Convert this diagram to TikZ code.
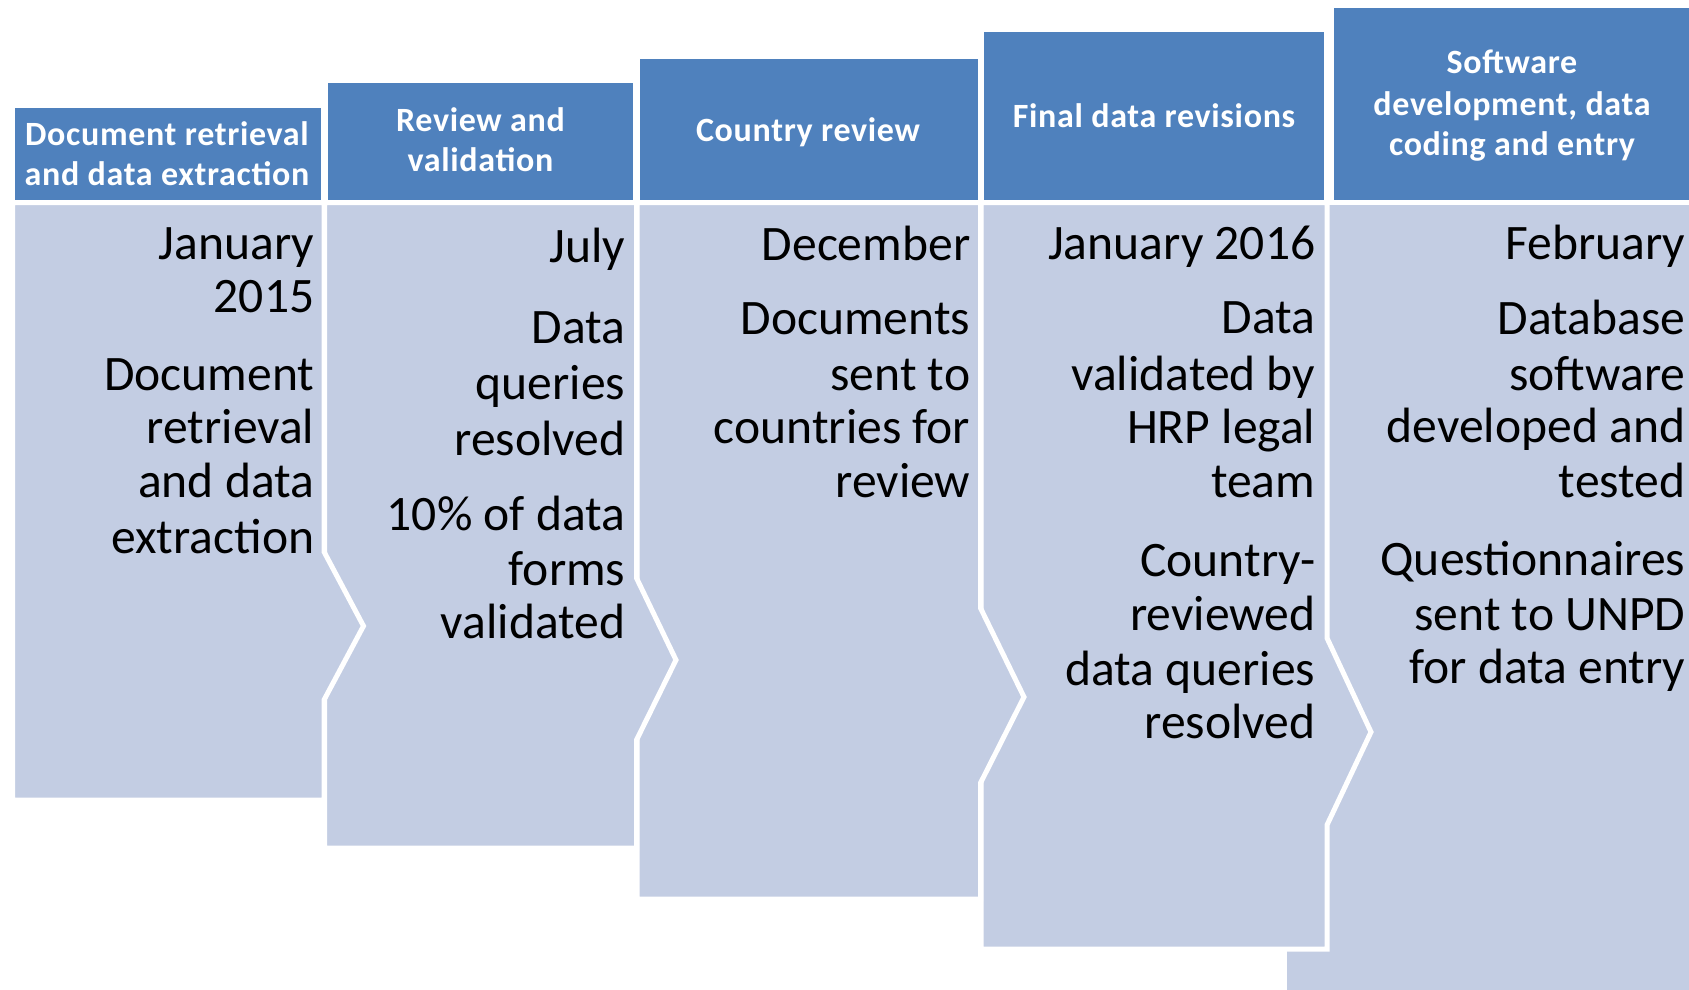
\documentclass[tikz,border=0pt]{standalone}
\usepackage{fontspec}
\newfontfamily\calib{Carlito}
\newfontfamily\calibsp[LetterSpace=2.0]{Carlito}
\newcommand\bodyfnt{\calib\fontsize{49.6}{54}\selectfont}
\newcommand\hdrfnt{\calibsp\bfseries\fontsize{34}{40}\selectfont}
\definecolor{hdrblue}{RGB}{79,129,189}
\definecolor{bodyblue}{RGB}{195,205,227}
\tikzset{
  bodyshape/.style={fill=bodyblue, draw=white, line width=5pt, line join=miter},
  hdrbox/.style={fill=hdrblue},
  bt/.style={font=\bodyfnt, text=black, inner sep=0pt, anchor=base east},
  ht/.style={font=\hdrfnt, text=white, inner sep=0pt, anchor=base},
}
\begin{document}
\begin{tikzpicture}[x=1pt,y=-1pt]
\useasboundingbox (0,0) rectangle (1689,990);
% bodies (back to front)
\path[bodyshape] (1284.5,202.5) -- (1700,202.5) -- (1700,1000) -- (1284.5,1000) -- cycle;
\path[bodyshape] (981,202.5) -- (1327,202.5) -- (1327,638) -- (1371,732) -- (1327,825) -- (1327,949) -- (981,949) -- cycle;
\path[bodyshape] (637,202.5) -- (980.5,202.5) -- (980.5,608) -- (1024,697) -- (980.5,783) -- (980.5,899) -- (637,899) -- cycle;
\path[bodyshape] (324.5,202.5) -- (636.5,202.5) -- (636.5,578) -- (676,660) -- (636.5,740) -- (636.5,848) -- (324.5,848) -- cycle;
\path[bodyshape] (12.5,202.5) -- (324,202.5) -- (324,551.7) -- (363.5,626) -- (324,700) -- (324,800) -- (12.5,800) -- cycle;
% headers
\fill[hdrbox] (15,107.7) rectangle (321,200.4);
\fill[hdrbox] (327.5,83) rectangle (633.4,200.4);
\fill[hdrbox] (639.8,59.2) rectangle (978,200.4);
\fill[hdrbox] (983.5,32.3) rectangle (1324,200.4);
\fill[hdrbox] (1333.5,8.3) rectangle (1700,200.4);
% header texts
\node[ht] (h1a) at (167,145) {Document retrieval};
\node[ht] (h1b) at (167,185) {and data extraction};
\node[ht] (h2a) at (480.5,131.7) {Review and};
\node[ht] (h2b) at (480.5,171.7) {validation};
\node[ht] (h3a) at (808,141) {Country review};
\node[ht] (h4a) at (1154,127) {Final data revisions};
\node[ht] (h5a) at (1512,74) {Software};
\node[ht] (h5b) at (1512,115) {development, data};
\node[ht] (h5c) at (1512,155) {coding and entry};
% column 1
\node[bt] (c1a) at (314.5,259.5) {January};
\node[bt] (c1b) at (314.5,312) {2015};
\node[bt] (c1c) at (314.5,390) {Document};
\node[bt] (c1d) at (314.5,443.5) {retrieval};
\node[bt] (c1e) at (314.5,497.5) {and data};
\node[bt] (c1f) at (314.5,553) {extraction};
% column 2
\node[bt] (c2a) at (625.5,262.5) {July};
\node[bt] (c2b) at (625.5,343) {Data};
\node[bt] (c2c) at (625.5,399) {queries};
\node[bt] (c2d) at (625.5,455) {resolved};
\node[bt] (c2e) at (625.5,530) {10\% of data};
\node[bt] (c2f) at (625.5,585) {forms};
\node[bt] (c2g) at (625.5,638) {validated};
% column 3
\node[bt] (c3a) at (970.5,260) {December};
\node[bt] (c3b) at (970.5,334.5) {Documents};
\node[bt] (c3c) at (970.5,390) {sent to};
\node[bt] (c3d) at (970.5,443.5) {countries for};
\node[bt] (c3e) at (970.5,497.5) {review};
% column 4
\node[bt] (c4a) at (1315.5,259.5) {January 2016};
\node[bt] (c4b) at (1315.5,333.5) {Data};
\node[bt] (c4c) at (1315.5,390) {validated by};
\node[bt] (c4d) at (1315.5,443.5) {HRP legal};
\node[bt] (c4e) at (1315.5,497) {team};
\node[bt] (c4f) at (1315.5,576.5) {Country-};
\node[bt] (c4g) at (1315.5,630) {reviewed};
\node[bt] (c4h) at (1315.5,685) {data queries};
\node[bt] (c4i) at (1315.5,738.5) {resolved};
% column 5
\node[bt] (c5a) at (1685.5,259.5) {February};
\node[bt] (c5b) at (1685.5,334.5) {Database};
\node[bt] (c5c) at (1685.5,390) {software};
\node[bt] (c5d) at (1685.5,442) {developed and};
\node[bt] (c5e) at (1685.5,497.5) {tested};
\node[bt] (c5f) at (1685.5,575) {Questionnaires};
\node[bt] (c5g) at (1685.5,630) {sent to UNPD};
\node[bt] (c5h) at (1685.5,683.5) {for data entry};
\end{tikzpicture}
\end{document}
